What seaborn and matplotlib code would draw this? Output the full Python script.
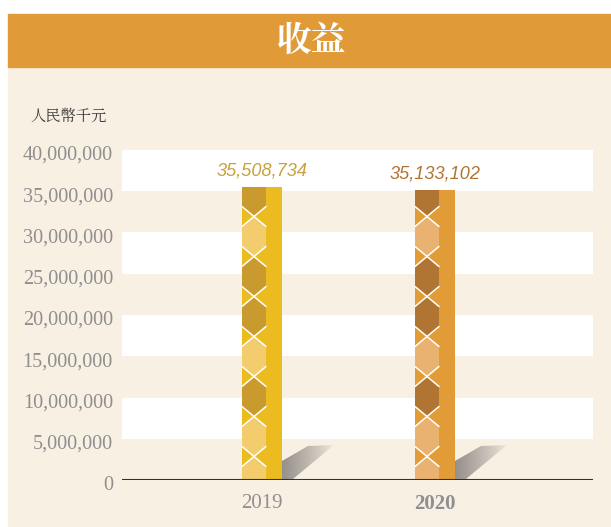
import numpy as np
import pandas as pd
import matplotlib
matplotlib.use("Agg")
import matplotlib.pyplot as plt
import matplotlib.transforms as mtransforms
import seaborn as sns
from matplotlib.patches import Rectangle, Polygon

# ---- data ----
years = ["2019", "2020"]
revenue = [35508734, 35133102]
y_ticks = [0, 5000000, 10000000, 15000000, 20000000, 25000000, 30000000, 35000000, 40000000]
title = "收益"
unit_label = "人民幣千元"

# ---- style ----
CREAM = "#F9F0E4"
HEADER = "#E09B38"
TICK_GREY = "#8F8F8F"
solid_colors = ["#ECBB1F", "#E19B37"]
dark_hex = ["#C99A2D", "#B07533"]
light_hex = ["#F2CC6D", "#E9B271"]
label_colors = ["#C9A03C", "#B07534"]
hex_order = ["light", "light", "dark", "light", "dark", "dark", "light", "dark"]  # bottom -> top

W, H = 611, 527
PX_X = 1 / 173.0          # data units per pixel, x
PX_Y = 40e6 / 330.0       # data units per pixel, y
BAR_W = 40 * PX_X
PAT_W = 24 * PX_X
HEX_SLANT = 10 * PX_Y
HEX_STEP = 40 * PX_Y
HEX_OFFSET = 23.5 * PX_Y
SHADOW_SHAPE = [(0, 1), (0, 19), (26, 34), (52, 35), (11, 1)]  # px offsets from bar base

sns.set_theme(style="white")
plt.rcParams["font.family"] = ["Liberation Serif", "Noto Sans CJK TC"]

fig = plt.figure(figsize=(W / 100, H / 100), dpi=100, facecolor="white")
fig.patches.append(Rectangle((8 / W, 0), 1 - 8 / W, 1 - 67 / H, transform=fig.transFigure,
                             color=CREAM, zorder=-2))
fig.patches.append(Rectangle((8 / W, 1 - 67 / H), 1 - 8 / W, 53 / H, transform=fig.transFigure,
                             color=HEADER, zorder=-2))
fig.text(312 / W, 1 - 41 / H, title, family=["Noto Serif CJK TC", "Noto Sans CJK TC"],
         weight="bold", size=25, color="white", ha="center", va="center")
fig.text(30 / W, 1 - 116 / H, unit_label, family=["Noto Serif CJK TC", "Noto Sans CJK TC"],
         size=11, color="#3A3A3A", ha="left", va="center")

ax = fig.add_axes([122 / W, 1 - 480 / H, 471 / W, 330 / H])
ax.set_zorder(1)
ax.patch.set_alpha(0)

# alternating white bands
for lo in [5e6, 15e6, 25e6, 35e6]:
    ax.axhspan(lo, lo + 5e6, color="white", lw=0, zorder=0)

df = pd.DataFrame({"year": years, "revenue": revenue})
sns.barplot(data=df, x="year", y="revenue", hue="year", palette=solid_colors, saturation=1,
            width=BAR_W, linewidth=0, legend=False, ax=ax, zorder=3)

for i, val in enumerate(revenue):
    x0 = i - BAR_W / 2
    x1 = x0 + PAT_W
    xm = (x0 + x1) / 2
    clip = Rectangle((x0, 0), BAR_W, val, transform=ax.transData)

    crossings = []
    c = HEX_OFFSET
    while c < val:
        crossings.append(c)
        c += HEX_STEP
    bounds = [crossings[0] - HEX_STEP] + crossings + [crossings[-1] + HEX_STEP]
    for k in range(len(bounds) - 1):
        lo, hi = bounds[k], bounds[k + 1]
        shade = dark_hex[i] if hex_order[k % len(hex_order)] == "dark" else light_hex[i]
        xs = [xm, x1, x1, xm, x0, x0]
        ys = [lo, lo + HEX_SLANT, hi - HEX_SLANT, hi, hi - HEX_SLANT, lo + HEX_SLANT]
        for p in ax.fill(xs, ys, color=shade, lw=0, zorder=4):
            p.set_clip_path(clip)
    for c in crossings:
        for ya, yb in [(c - HEX_SLANT, c + HEX_SLANT), (c + HEX_SLANT, c - HEX_SLANT)]:
            ln, = ax.plot([x0, x1], [ya, yb], color="white", lw=1.1, zorder=5)
            ln.set_clip_path(clip)

    # shadow at the foot of the bar
    xr = i + BAR_W / 2
    pts = [(xr + dx * PX_X, dy * PX_Y) for dx, dy in SHADOW_SHAPE]
    poly = Polygon(pts, closed=True, facecolor="none", edgecolor="none", transform=ax.transData)
    ax.add_patch(poly)
    n = 64
    grad = np.zeros((1, n, 4))
    grad[..., 0] = 0.55
    grad[..., 1] = 0.53
    grad[..., 2] = 0.51
    grad[..., 3] = np.linspace(0.9, 0.0, n) ** 0.8
    im = ax.imshow(grad, extent=(xr, xr + 54 * PX_X, 0, 36 * PX_Y), aspect="auto",
                   origin="lower", zorder=2, interpolation="bilinear")
    im.set_clip_path(poly)

    ax.text(i, val + 8 * PX_Y, f"{val:,}", ha="center", va="bottom",
            family="Liberation Sans", style="italic", size=13.1, color=label_colors[i], zorder=6)

ax.axhline(0, color="#333333", lw=1.5, zorder=7)

ax.set_xlim(-140 * PX_X, 331 * PX_X)
ax.set_ylim(0, 40e6)
ax.set_yticks(y_ticks)
ax.set_yticklabels([f"{t:,}" for t in y_ticks])
ax.tick_params(axis="y", length=0, pad=6.5, labelsize=14.6, labelcolor=TICK_GREY)
ax.tick_params(axis="x", length=0, pad=10, labelsize=15, labelcolor=TICK_GREY)
ax.set_xticks(range(len(years)))
ax.set_xticklabels(years)
ax.get_xticklabels()[1].set_fontweight("bold")
shift = mtransforms.ScaledTranslation(0, -3 / 100, fig.dpi_scale_trans)
for lab in ax.get_yticklabels():
    lab.set_transform(lab.get_transform() + shift)
ax.set_xlabel("")
ax.set_ylabel("")
for s in ax.spines.values():
    s.set_visible(False)
ax.grid(False)

fig.savefig("out.png", dpi=100)
